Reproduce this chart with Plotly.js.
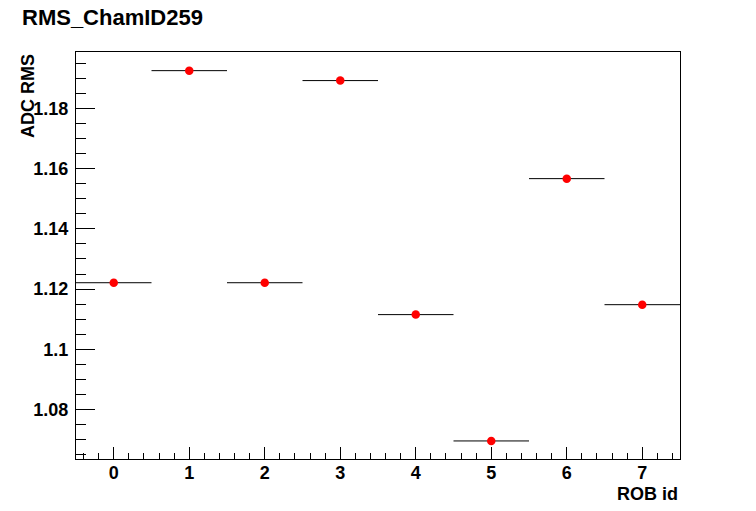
<!DOCTYPE html>
<html>
<head>
<meta charset="utf-8">
<script src="https://cdn.plot.ly/plotly-3.0.1.min.js"></script>
<style>html,body{margin:0;padding:0;background:#fff;}#chart{width:756px;height:511px;}</style>
</head>
<body>
<div id="chart"></div>
<script>
const robIds = [0, 1, 2, 3, 4, 5, 6, 7];
const rmsValues = [1.1221, 1.1926, 1.1221, 1.1893, 1.1115, 1.0695, 1.1567, 1.1148];
const binHalfWidth = 0.5;
const yTickVals = [1.08, 1.10, 1.12, 1.14, 1.16, 1.18];
const yTickText = ['1.08', '1.1', '1.12', '1.14', '1.16', '1.18'];
const xTickVals = [0, 1, 2, 3, 4, 5, 6, 7];
const xTickText = ['0', '1', '2', '3', '4', '5', '6', '7'];

const FONT = 'Liberation Sans, Arial, Helvetica, sans-serif';

const trace = {
  x: robIds,
  y: rmsValues,
  type: 'scatter',
  mode: 'markers',
  marker: {color: '#ff0000', size: 8.5, symbol: 'circle'},
  error_x: {type: 'constant', value: binHalfWidth, width: 0, color: '#000000', thickness: 1},
  hoverinfo: 'x+y'
};

const layout = {
  width: 756,
  height: 511,
  paper_bgcolor: '#ffffff',
  plot_bgcolor: '#ffffff',
  margin: {l: 76, r: 76, t: 52, b: 52, pad: 0},
  showlegend: false,
  font: {family: FONT, color: '#000000'},
  title: {
    text: '<b>RMS_ChamID259</b>',
    font: {family: FONT, size: 22, color: '#000000'},
    xref: 'container', x: 22 / 756, xanchor: 'left',
    yref: 'container', y: 1 - 17 / 511, yanchor: 'middle'
  },
  xaxis: {
    range: [-0.5, 7.5],
    showgrid: false, zeroline: false,
    showline: true, linecolor: '#000000', linewidth: 1, mirror: true,
    ticks: 'inside', ticklen: 12, tickwidth: 1, tickcolor: '#000000',
    tickvals: xTickVals, ticktext: xTickText,
    tickfont: {family: FONT, size: 18, color: '#000000', weight: 'bold'},
    ticklabelstandoff: -3,
    minor: {dtick: 0.2, tick0: 0, ticks: 'inside', ticklen: 6, tickwidth: 1, tickcolor: '#000000', showgrid: false}
  },
  yaxis: {
    range: [1.0635, 1.1988],
    showgrid: false, zeroline: false,
    showline: true, linecolor: '#000000', linewidth: 1, mirror: true,
    ticks: 'inside', ticklen: 19, tickwidth: 1, tickcolor: '#000000',
    tickvals: yTickVals, ticktext: yTickText,
    tickfont: {family: FONT, size: 18, color: '#000000', weight: 'bold'},
    ticklabelstandoff: 3,
    minor: {dtick: 0.005, tick0: 1.08, ticks: 'inside', ticklen: 10, tickwidth: 1, tickcolor: '#000000', showgrid: false}
  },
  annotations: [
    {
      text: '<b>ADC RMS</b>', textangle: -90,
      xref: 'paper', yref: 'paper',
      x: (28 - 76) / 604, xanchor: 'center',
      y: 1, yanchor: 'top',
      showarrow: false,
      font: {family: FONT, size: 18, color: '#000000'}
    },
    {
      text: '<b>ROB id</b>',
      xref: 'paper', yref: 'paper',
      x: 1, xanchor: 'right',
      y: -(494 - 459) / 407, yanchor: 'middle',
      showarrow: false,
      font: {family: FONT, size: 18, color: '#000000'}
    }
  ]
};

Plotly.newPlot('chart', [trace], layout, {displayModeBar: false, staticPlot: true});
</script>
</body>
</html>
